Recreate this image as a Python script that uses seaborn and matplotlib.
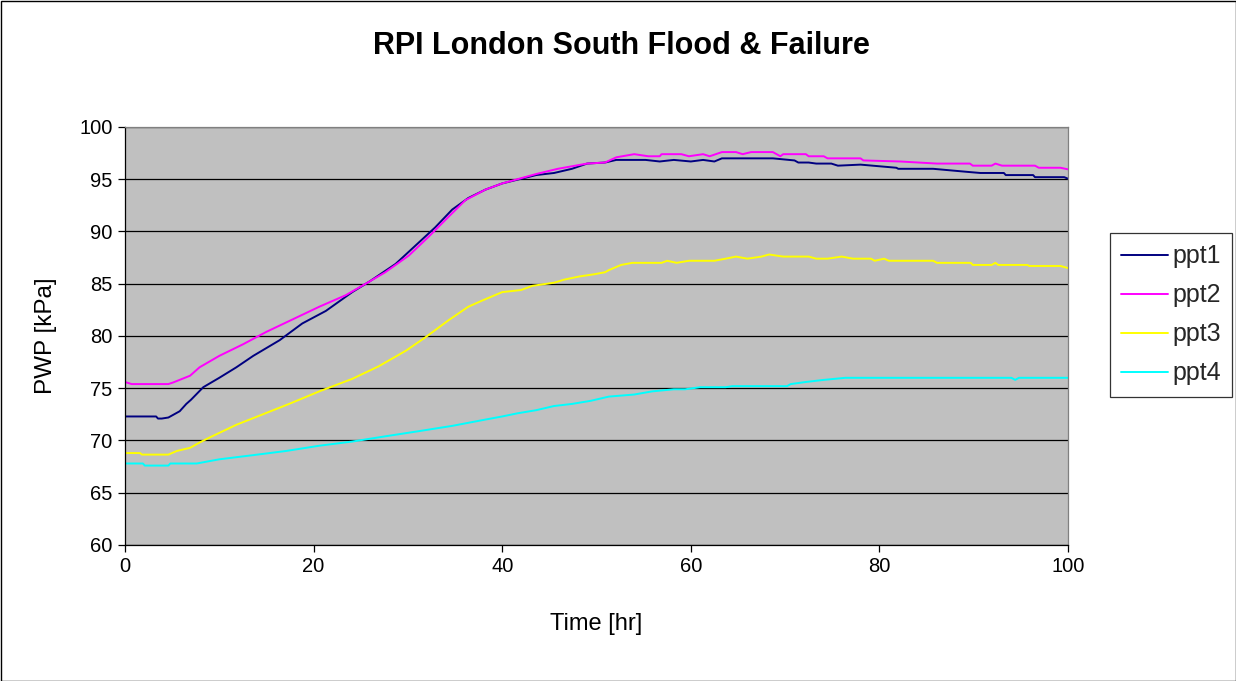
import matplotlib
matplotlib.use("Agg")
import matplotlib.pyplot as plt
import seaborn as sns
import pandas as pd
from matplotlib.patches import Rectangle
from matplotlib.lines import Line2D

# ---- data ----
ppt1_t = [0, 3.3, 3.5, 3.9, 4.6, 5.8, 6.5, 7.0, 8.3, 10, 11.8, 13.6, 16.4, 18.8, 21.3, 24.1, 25.9, 28.7,
          30.5, 32.9, 34.7, 36.4, 38.2, 40, 43.6, 45.5, 47.4, 49, 50.9, 52.1, 55.2, 56.7, 58.2, 60, 61.3,
          62.5, 63.3, 64.8, 66, 68.7, 71, 71.4, 72.5, 73.3, 74.9, 75.6, 78, 81.8, 82, 85.7, 89.4, 90.7,
          91.1, 93.2, 93.4, 96.3, 96.5, 99.6, 100]
ppt1_v = [72.3, 72.3, 72.1, 72.1, 72.2, 72.8, 73.5, 73.9, 75.1, 76.0, 77.0, 78.1, 79.6, 81.2, 82.4, 84.2, 85.2, 86.9,
          88.4, 90.4, 92.1, 93.2, 94.0, 94.6, 95.4, 95.6, 96.0, 96.5, 96.6, 96.85, 96.85, 96.7, 96.85, 96.7, 96.85,
          96.7, 97.0, 97.0, 97.0, 97.0, 96.8, 96.6, 96.6, 96.5, 96.5, 96.3, 96.4, 96.1, 96.0, 96.0, 95.7, 95.6,
          95.6, 95.6, 95.4, 95.4, 95.2, 95.2, 95.05]

ppt2_t = [0, 0.7, 4.6, 5.1, 6.9, 7.9, 10, 12.5, 15, 17.8, 20.6, 23.4, 25.9, 27.6, 30.1, 32.2, 34.3, 36.1,
          38.2, 40, 43.6, 45.9, 49, 50.9, 52.1, 54, 55.5, 56.7, 56.9, 59, 59.8, 61.3, 62, 63.3, 64.8, 65.5,
          66.4, 68.7, 69.5, 69.8, 72.2, 72.5, 74.1, 74.5, 78, 78.3, 82.2, 86.1, 89.6, 89.9, 91.9, 92.3, 93,
          96.5, 96.9, 99.2, 100]
ppt2_v = [75.6, 75.4, 75.4, 75.55, 76.2, 77.0, 78.1, 79.2, 80.4, 81.6, 82.8, 83.9, 85.2, 86.1, 87.7, 89.5, 91.4, 93.0,
          94.0, 94.6, 95.5, 96.0, 96.5, 96.6, 97.1, 97.4, 97.2, 97.2, 97.4, 97.4, 97.2, 97.4, 97.2, 97.6, 97.6, 97.4,
          97.6, 97.6, 97.2, 97.4, 97.4, 97.2, 97.2, 97.0, 97.0, 96.8, 96.7, 96.5, 96.5, 96.3, 96.3, 96.5, 96.3,
          96.3, 96.1, 96.1, 95.95]

ppt3_t = [0, 1.6, 1.8, 4.6, 5.5, 6.9, 7.9, 9, 11.8, 14.6, 17.4, 20.6, 24.1, 26.9, 29.8, 31.9, 34.3, 36.4,
          37.9, 40, 42, 43.2, 45.5, 46.6, 48.2, 49.7, 50.9, 51.3, 52.6, 53.8, 56.9, 57.5, 58.5, 59.8, 62.5,
          63.7, 64.8, 66, 67.5, 68.3, 69.8, 72.5, 73.3, 74.5, 76, 77.2, 79.1, 79.5, 80.5, 81, 85.7, 86.1,
          89.7, 89.9, 91.9, 92.3, 92.6, 95.7, 95.9, 99.2, 100]
ppt3_v = [68.8, 68.8, 68.65, 68.65, 69.0, 69.3, 69.8, 70.3, 71.5, 72.5, 73.5, 74.7, 75.9, 77.1, 78.6, 79.9, 81.5, 82.8,
          83.4, 84.2, 84.4, 84.8, 85.1, 85.4, 85.7, 85.9, 86.1, 86.3, 86.8, 87.0, 87.0, 87.2, 87.0, 87.2, 87.2,
          87.4, 87.6, 87.4, 87.6, 87.8, 87.6, 87.6, 87.4, 87.4, 87.6, 87.4, 87.4, 87.2, 87.4, 87.2, 87.2, 87.0,
          87.0, 86.8, 86.8, 87.0, 86.8, 86.8, 86.7, 86.7, 86.5]

ppt4_t = [0, 1.9, 2.1, 4.6, 4.8, 7.6, 10, 13.6, 17.1, 20.6, 24.1, 27.6, 31.2, 34.7, 38.2, 40, 41.6, 43.6,
          45.5, 47.4, 49.4, 51.3, 54, 55.9, 58.2, 59.4, 61, 63.7, 64.4, 66.4, 70.2, 70.6, 72.2, 74.1, 76.4,
          78.3, 94, 94.4, 94.8, 100]
ppt4_v = [67.8, 67.8, 67.6, 67.6, 67.8, 67.8, 68.2, 68.6, 69.0, 69.5, 69.9, 70.4, 70.9, 71.4, 72.0, 72.3, 72.6, 72.9,
          73.3, 73.5, 73.8, 74.2, 74.4, 74.7, 74.9, 74.9, 75.1, 75.1, 75.2, 75.2, 75.2, 75.4, 75.6, 75.8, 76.0,
          76.0, 76.0, 75.8, 76.0, 76.0]

series_names = ["ppt1", "ppt2", "ppt3", "ppt4"]
series_colors = ["#000080", "#FF00FF", "#FFFF00", "#00FFFF"]
title = "RPI London South Flood & Failure"
x_label = "Time [hr]"
y_label = "PWP [kPa]"

frames = []
for name, t, v in zip(series_names, [ppt1_t, ppt2_t, ppt3_t, ppt4_t], [ppt1_v, ppt2_v, ppt3_v, ppt4_v]):
    frames.append(pd.DataFrame({"time": t, "pwp": v, "series": name}))
df = pd.concat(frames, ignore_index=True)

sns.set_theme(style="white")
plt.rcParams["font.family"] = ["Liberation Sans", "DejaVu Sans"]

fig = plt.figure(figsize=(12.36, 6.81), dpi=100)
ax = fig.add_axes([125/1236, 1 - 545/681, (1068-125)/1236, (545-127)/681])
ax.set_facecolor("#C0C0C0")

sns.lineplot(data=df, x="time", y="pwp", hue="series", hue_order=series_names,
             palette=dict(zip(series_names, series_colors)), linewidth=1.4,
             estimator=None, sort=False, ax=ax, legend=False)

ax.set_xlim(0, 100)
ax.set_ylim(60, 100)
ax.set_xticks(range(0, 101, 20))
ax.set_yticks(range(60, 101, 5))
ax.yaxis.grid(True, color="black", linewidth=0.9)
ax.xaxis.grid(False)
ax.set_axisbelow(True)
for s in ["left", "bottom"]:
    ax.spines[s].set_color("black")
    ax.spines[s].set_linewidth(0.9)
for s in ["top", "right"]:
    ax.spines[s].set_color("#808080")
    ax.spines[s].set_linewidth(0.9)
ax.tick_params(axis="both", direction="out", length=5, width=0.9, color="black",
               labelsize=14.5, labelcolor="black", pad=4, bottom=True, left=True)
ax.set_xlabel(x_label, fontsize=17, color="black", labelpad=26)
ax.set_ylabel(y_label, fontsize=17.5, color="black", labelpad=16)

fig.text(0.5025, 0.932, title, ha="center", va="center", fontsize=22, fontweight="bold", color="black")

handles = [Line2D([0], [0], color=c, linewidth=1.4) for c in series_colors]
leg = fig.legend(handles, series_names, loc="upper left", bbox_to_anchor=(1110/1236, 1 - 233/681),
                 frameon=True, fancybox=False, fontsize=18, handlelength=1.85, handletextpad=0.2,
                 labelspacing=0.6, borderpad=0.45, borderaxespad=0, edgecolor="black")
leg.get_frame().set_linewidth(0.9)

fig.patches.append(Rectangle((0.5/1236, 0.5/681), 1 - 1/1236, 1 - 1/681, transform=fig.transFigure,
                             fill=False, edgecolor="black", linewidth=1))

fig.savefig("out.png", dpi=100, facecolor="white")
